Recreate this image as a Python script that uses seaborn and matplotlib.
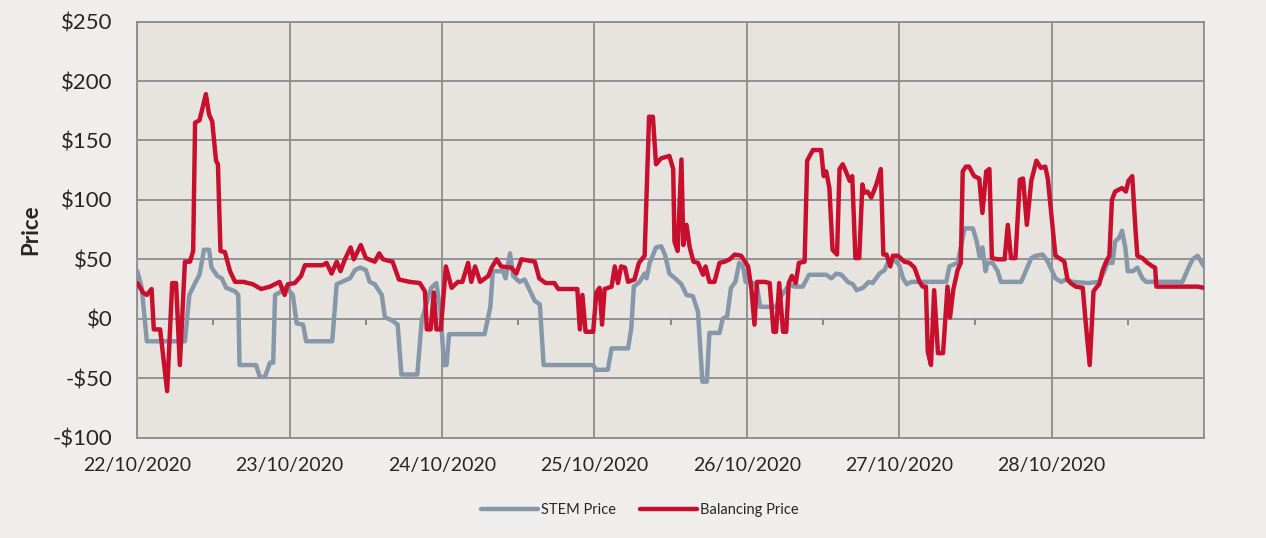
import numpy as np
import pandas as pd
import matplotlib
matplotlib.use("Agg")
import matplotlib.pyplot as plt
import matplotlib.dates as mdates
from matplotlib.ticker import FuncFormatter, NullFormatter
import seaborn as sns

# ----- data (hours after 22/10/2020 00:00, $/MWh) -----
start_date = "2020-10-22"
series_names = ["STEM Price", "Balancing Price"]

stem_hours = [0, 0.7, 1.5, 7.5, 8.2, 9.1, 9.8, 10.5, 11.3, 11.7, 12.6, 13.3, 14.0, 15.4, 15.9,
              16.1, 18.7, 19.3, 20.1, 20.9, 21.4, 21.7, 22.4, 23.2, 24.0, 24.5, 25.1, 26.1, 26.6,
              30.7, 31.4, 32.2, 33.5, 34.3, 35.1, 36.0, 36.6, 37.4, 38.5, 39.0, 40.0, 41.0, 41.6,
              44.1, 44.8, 46.3, 47.1, 47.8, 48.3, 48.7, 49.1, 54.7, 55.6, 56.0, 57.6, 58.0, 58.7,
              59.2, 60.2, 61.0, 62.6, 63.4, 64.0, 71.8, 72.2, 74.1, 74.7, 77.3, 77.8, 78.2, 79.1,
              79.9, 80.2, 80.7, 81.7, 82.5, 83.1, 83.8, 84.9, 85.7, 86.5, 87.5, 88.3, 89.0, 89.7,
              90.1, 91.7, 92.2, 92.9, 93.5, 94.2, 94.8, 95.4, 95.8, 97.0, 97.6, 98.1, 100.6, 101.4,
              102.7, 103.5, 104.8, 105.8, 108.5, 109.3, 110.1, 110.9, 111.9, 112.7, 113.3, 114.3,
              115.2, 115.8, 116.9, 117.7, 118.2, 119.0, 119.5, 120.0, 120.6, 121.2, 121.9, 127.4,
              127.9, 129.2, 130.3, 131.6, 132.2, 132.7, 133.1, 133.6, 133.9, 134.7, 135.5, 136.0,
              139.2, 140.0, 140.8, 141.5, 142.6, 143.4, 144.6, 145.5, 146.3, 147.3, 149.7, 151.5,
              152.3, 152.8, 153.6, 154.0, 154.6, 155.1, 155.6, 156.0, 156.8, 157.5, 158.3, 158.9,
              164.6, 165.4, 166.2, 167.0, 168.0]
stem_price = [40, 26, -19, -19, 20, 30, 37, 58, 58, 43, 36, 34, 26, 23, 20,
              -39, -39, -49, -49, -37, -37, 20, 22, 26, 23, 20, -4, -5, -19,
              -19, 29, 31, 34, 41, 43, 41, 31, 29, 20, 1, -1, -5, -47,
              -47, -1, 26, 30, 3, -39, -39, -13, -13, 10, 40, 40, 34, 55,
              36, 31, 33, 15, 12, -39, -39, -43, -43, -25, -25, -8, 27, 31,
              38, 34, 47, 60, 61, 54, 38, 33, 29, 20, 19, 6, -53, -53,
              -12, -12, 0, 2, 26, 31, 47, 44, 31, 30, 27, 10, 10, 19,
              29, 27, 27, 37, 37, 34, 38, 37, 31, 29, 24, 26,
              31, 30, 38, 41, 47, 50, 48, 45, 34, 29, 31, 31,
              44, 47, 76, 76, 65, 51, 60, 40, 47, 47, 40, 31,
              31, 41, 51, 53, 54, 48, 34, 31, 33, 31, 30, 31,
              40, 47, 47, 65, 68, 74, 60, 40, 40, 43, 34, 31,
              31, 41, 50, 53, 44]

bal_hours = [0, 0.9, 1.5, 2.25, 2.6, 3.6, 4.7, 5.5, 6.1, 6.7, 7.5, 8.3, 8.8, 9.1, 9.8, 10.8,
             11.3, 11.8, 12.4, 12.7, 13.1, 13.8, 14.6, 15.4, 16.7, 18.2, 19.5, 20.9, 22.4, 23.2,
             23.7, 24.8, 25.8, 26.4, 29.2, 29.8, 30.6, 31.4, 32.0, 32.7, 33.6, 34.1, 35.2, 36.0,
             37.4, 38.1, 38.7, 40.2, 41.2, 42.9, 44.5, 45.3, 45.6, 46.2, 46.7, 47.1, 47.8, 48.6,
             49.5, 50.5, 51.2, 52.1, 52.6, 53.2, 54.0, 55.3, 55.8, 56.6, 57.3, 58.9, 59.7, 60.5,
             62.6, 63.3, 64.3, 65.7, 66.3, 69.3, 69.7, 70.1, 70.6, 71.8, 72.3, 72.8, 73.2, 73.6,
             74.7, 75.2, 75.7, 76.2, 76.8, 77.3, 78.3, 79.0, 79.9, 80.6, 81.2, 81.7, 82.5, 83.8,
             84.4, 84.6, 85.1, 85.7, 86.0, 86.5, 87.0, 87.6, 88.3, 89.1, 89.5, 90.1, 90.9, 91.7,
             92.5, 93.3, 94.1, 95.1, 96.2, 96.7, 97.2, 97.6, 98.8, 99.6, 100.2, 100.6, 101.1,
             101.7, 102.2, 102.6, 103.1, 103.7, 104.2, 105.1, 105.5, 106.4, 107.7, 108.1, 108.5,
             109.0, 109.5, 110.2, 110.6, 111.1, 111.6, 112.2, 112.6, 113.1, 113.7, 114.2, 114.5,
             115.0, 115.6, 116.4, 117.1, 117.5, 118.0, 118.6, 119.0, 119.8, 120.8, 121.6, 122.4,
             123.2, 123.7, 124.2, 124.5, 125.0, 125.5, 126.1, 126.9, 127.6, 128.0, 128.5, 129.2,
             129.7, 130.0, 130.5, 131.0, 131.8, 132.6, 133.1, 133.7, 134.2, 134.6, 135.5, 136.6,
             137.1, 137.6, 138.3, 139.0, 139.5, 140.1, 140.8, 141.6, 142.3, 143.0, 143.4, 144.6,
             145.5, 146.0, 146.5, 147.0, 147.8, 148.9, 149.4, 150.0, 150.6, 151.0, 151.5, 152.0,
             152.5, 153.1, 153.5, 154.0, 155.1, 155.7, 156.1, 156.7, 157.2, 157.5, 158.3, 159.1,
             159.9, 160.3, 160.5, 166.2, 167.0, 168.0]
bal_price = [30, 22, 20, 25, -9, -9, -61, 30, 30, -39, 48, 48, 57, 165, 167, 189,
             172, 166, 133, 130, 57, 56, 40, 31, 31, 29, 25, 27, 31, 20,
             29, 30, 36, 45, 45, 47, 38, 48, 40, 50, 60, 50, 62, 51,
             48, 55, 50, 48, 33, 31, 30, 23, -9, -9, 22, -9, -9, 44,
             26, 31, 31, 47, 31, 44, 31, 36, 43, 50, 44, 43, 38, 50,
             48, 34, 30, 30, 25, 25, -9, 20, -11, -11, 22, 26, -5, 25,
             27, 44, 30, 44, 43, 31, 33, 47, 53, 170, 170, 130, 135, 137,
             126, 65, 57, 134, 62, 79, 60, 48, 47, 37, 44, 31, 31, 47,
             48, 50, 54, 53, 44, 26, -5, 31, 31, 30, -11, -11, 30,
             -11, -11, 30, 36, 30, 47, 48, 133, 142, 142, 120, 124,
             110, 58, 54, 126, 130, 124, 116, 120, 51, 51, 113, 106,
             107, 102, 113, 126, 54, 54, 44, 53, 53, 48, 47, 43,
             31, 27, 27, -28, -39, 24, -29, -29, 27, 1, 24, 41,
             47, 124, 128, 128, 120, 118, 89, 124, 126, 51, 50, 50,
             79, 51, 51, 117, 118, 79, 116, 133, 127, 128, 118, 53,
             50, 48, 33, 30, 27, 26, -5, -39, 23, 26, 29, 40,
             47, 53, 100, 107, 110, 107, 116, 120, 76, 53, 51, 47,
             44, 43, 27, 27, 27, 26]

y_ticks = [-100, -50, 0, 50, 100, 150, 200, 250]

colors = {"STEM Price": "#8597a9", "Balancing Price": "#c8102e"}

# ----- build long-form table -----
t0 = pd.Timestamp(start_date)
frames = []
for name, hours, price in [(series_names[0], stem_hours, stem_price),
                           (series_names[1], bal_hours, bal_price)]:
    frames.append(pd.DataFrame({"time": t0 + pd.to_timedelta(hours, unit="h"),
                                "price": price,
                                "series": name}))
df = pd.concat(frames, ignore_index=True)

# ----- style -----
sns.set_style("white")
plt.rcParams.update({"font.family": ["Lato", "DejaVu Sans"],
                     "font.size": 14})
grid_color = "#8c8c8c"

fig = plt.figure(figsize=(12.66, 5.38), dpi=100, facecolor="#efeeec")
ax = fig.add_axes([137.3 / 1266, 1 - 437.5 / 538, (1204 - 137.3) / 1266, (437.5 - 21.7) / 538])
ax.set_facecolor("#e7e4e0")

sns.lineplot(data=df, x="time", y="price", hue="series", hue_order=series_names,
             palette=colors, estimator=None, linewidth=3.2, ax=ax, zorder=3)

ax.set_xlim(t0, t0 + pd.Timedelta(days=7))
ax.set_ylim(-100, 250)
ax.set_yticks(y_ticks)
ax.yaxis.set_major_formatter(FuncFormatter(lambda v, p: f"-${abs(v):.0f}" if v < 0 else f"${v:.0f}"))
ax.xaxis.set_major_locator(mdates.DayLocator())
ax.xaxis.set_major_formatter(mdates.DateFormatter("%d/%m/%Y"))

ax.grid(True, color=grid_color, linewidth=1.3, zorder=1)
ax.set_axisbelow(True)
for s in ax.spines.values():
    s.set_color(grid_color)
    s.set_linewidth(1.3)

ax.tick_params(axis="y", direction="out", length=7, width=1.3, color=grid_color,
               labelsize=16, pad=11)
ax.tick_params(axis="x", length=0, labelsize=14, pad=14)
# last day label (29/10) is not shown
ticks = ax.get_xticks()
ax.set_xticks(ticks[:-1])

ax.set_xlabel("")
ax.set_ylabel("Price", fontsize=16, fontweight="bold", labelpad=8)

# midday tick marks sitting on the $0 line
secax = ax.secondary_xaxis(100 / 350)
secax.xaxis.set_major_locator(mdates.HourLocator(byhour=12))
secax.xaxis.set_major_formatter(NullFormatter())
secax.tick_params(direction="out", length=4, width=1.2, color="#7a7a7a")
secax.spines["bottom"].set_visible(False)
secax.spines["top"].set_visible(False)

sns.move_legend(ax, "center", bbox_to_anchor=(0.471, -0.174), ncol=2, title=None,
                frameon=False, fontsize=10.5, handlelength=3.9, handletextpad=0.2,
                columnspacing=1.7)

plt.savefig("out.png", dpi=100, facecolor=fig.get_facecolor())
